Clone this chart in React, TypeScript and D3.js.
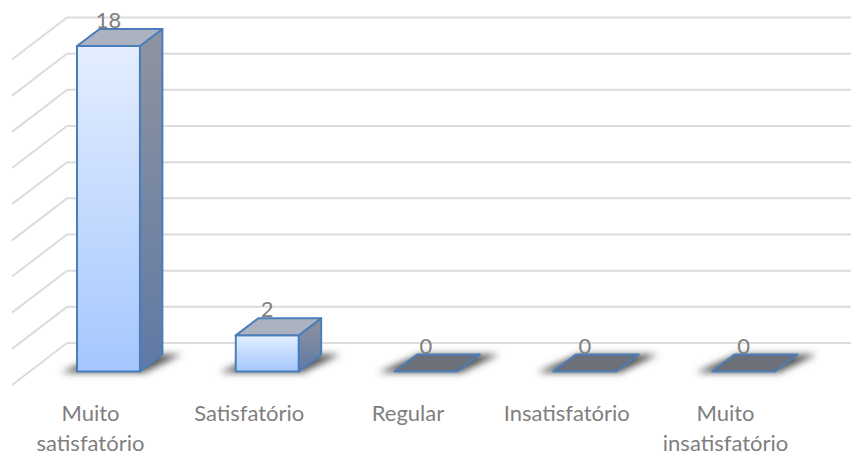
import React from 'react';
import * as d3 from 'd3';

const categories = ['Muito satisfatório', 'Satisfatório', 'Regular', 'Insatisfatório', 'Muito insatisfatório'];
const categoryLines = [['Muito', 'satisfatório'], ['Satisfatório'], ['Regular'], ['Insatisfatório'], ['Muito', 'insatisfatório']];
const values = [18, 2, 0, 0, 0];
const yTicks = [0, 2, 4, 6, 8, 10, 12, 14, 16, 18];

const width = 851;
const height = 454;
const fontFamily = 'Lato, Carlito, sans-serif';
const textColor = '#7f7f7f';
const edge = '#4a7ebb';

// oblique offset of the 3d bars, and of the chart walls
const barDx = 22.5;
const barDy = -17;
const wallX = 67;
const wallDy = -28.5;
const floorDx = -55;
const floorDy = 42;

const x = d3.scaleBand<string>()
  .domain(categories)
  .range([77, 775])
  .paddingInner(96 / 159)
  .paddingOuter(0);

const y = d3.scaleLinear().domain([0, 18]).range([371.5, 46]);

const poly = (pts: [number, number][]) => d3.line()(pts) + 'Z';

export default function App() {
  const bw = x.bandwidth();
  return (
    <svg width={width} height={height} style={{ position: 'absolute', left: 0, top: 0, background: '#fff' }}>
      <defs>
        <linearGradient id="front" x1="0" y1="0" x2="0" y2="1">
          <stop offset="0" stopColor="#e4eeff" />
          <stop offset="1" stopColor="#a5c7fe" />
        </linearGradient>
        <linearGradient id="side" x1="0" y1="0" x2="0" y2="1">
          <stop offset="0" stopColor="#8f949f" />
          <stop offset="1" stopColor="#5f79a5" />
        </linearGradient>
        <filter id="shadow" x="-30%" y="-60%" width="160%" height="220%">
          <feGaussianBlur stdDeviation="3.5" />
        </filter>
      </defs>

      {/* walls */}
      {yTicks.map(t => {
        const gy = y(t) + wallDy;
        return (
          <g key={t} stroke="#dcdcdc" strokeWidth={2} fill="none">
            <path d={d3.line()([[wallX + floorDx, gy + floorDy], [wallX, gy], [width, gy]]) as string} />
          </g>
        );
      })}

      {/* floor shadows */}
      {categories.map(c => {
        const x0 = x(c) as number;
        const y0 = y(0);
        return (
          <path
            key={c}
            d={poly([
              [x0 - 16, y0 + 1],
              [x0 + bw + 4, y0 + 1],
              [x0 + bw + barDx + 19, y0 + barDy],
              [x0 + barDx + 2, y0 + barDy],
            ])}
            fill="#555"
            filter="url(#shadow)"
          />
        );
      })}

      {/* bars */}
      {categories.map((c, i) => {
        const x0 = x(c) as number;
        const x1 = x0 + bw;
        const yb = y(0);
        const yt = y(values[i]);
        const flat = values[i] === 0;
        return (
          <g key={c} stroke={edge} strokeWidth={2} strokeLinejoin="round">
            {!flat && <path d={poly([[x1, yt], [x1 + barDx, yt + barDy], [x1 + barDx, yb + barDy], [x1, yb]])} fill="url(#side)" />}
            {!flat && <rect x={x0} y={yt} width={bw} height={yb - yt} fill="url(#front)" />}
            <path
              d={poly([[x0, yt], [x1, yt], [x1 + barDx, yt + barDy], [x0 + barDx, yt + barDy]])}
              fill={flat ? '#6b7079' : '#acb2c0'}
            />
          </g>
        );
      })}

      {/* value labels */}
      {categories.map((c, i) => (
        <text
          key={c}
          x={(x(c) as number) + bw / 2}
          y={y(values[i]) - 18}
          textAnchor="middle"
          fontFamily={fontFamily}
          fontSize={22}
          fill={textColor}
        >
          {values[i]}
        </text>
      ))}

      {/* category labels */}
      {categories.map((c, i) => (
        <text
          key={c}
          x={(x(c) as number) + bw / 2 - 18}
          y={421}
          textAnchor="middle"
          fontFamily={fontFamily}
          fontSize={22}
          fill={textColor}
        >
          {categoryLines[i].map((line, j) => (
            <tspan key={line} x={(x(c) as number) + bw / 2 - 18} dy={j === 0 ? 0 : 29.5}>{line}</tspan>
          ))}
        </text>
      ))}
    </svg>
  );
}
